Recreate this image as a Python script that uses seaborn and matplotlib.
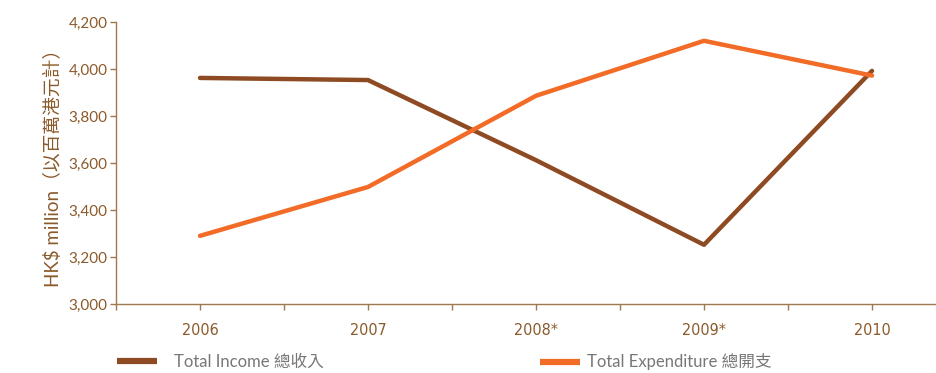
import matplotlib
matplotlib.use("Agg")
import matplotlib.pyplot as plt
import seaborn as sns
import pandas as pd
from matplotlib.ticker import FuncFormatter
from matplotlib.lines import Line2D

years = ["2006", "2007", "2008*", "2009*", "2010"]
income = [3962, 3953, 3612, 3252, 3992]
expenditure = [3290, 3498, 3886, 4120, 3972]
series_names = ["Total Income 總收入", "Total Expenditure 總開支"]
yticks = [3000, 3200, 3400, 3600, 3800, 4000, 4200]

colors = ["#8E4A22", "#F26B27"]
brown = "#8B5A2B"

sns.set_theme(style="white")
plt.rcParams['font.family'] = ['Lato', 'Noto Sans CJK TC', 'DejaVu Sans']

df = pd.DataFrame({
    "x": list(range(len(years))) * 2,
    "value": income + expenditure,
    "series": [series_names[0]] * len(years) + [series_names[1]] * len(years),
})

fig = plt.figure(figsize=(9.37, 3.73), dpi=100)
ax = fig.add_axes([116 / 937, 1 - 304 / 373, 1 - 116 / 937, (304 - 22) / 373])

sns.lineplot(data=df, x="x", y="value", hue="series", palette=colors,
             linewidth=3.2, ax=ax, legend=False, sort=False)

ax.set_yticks(yticks)
ax.yaxis.set_major_formatter(FuncFormatter(lambda v, p: f"{int(v):,}"))
ax.set_xticks(range(len(years)))
ax.set_xticklabels(years, family=['DejaVu Sans'], stretch='condensed')
ax.set_xticks([i + 0.5 for i in range(-1, len(years) - 1)], minor=True)
ax.set_xlim(-0.5, 4.387)
ax.set_ylim(3000, 4200)
ax.set_xlabel("")
ax.set_ylabel("HK$ million（以百萬港元計）", color=brown, fontsize=13.5, labelpad=5)

for s in ["top", "right"]:
    ax.spines[s].set_visible(False)
for s in ["left", "bottom"]:
    ax.spines[s].set_color("#A07850")
    ax.spines[s].set_linewidth(1.0)

ax.tick_params(axis="y", which="major", direction="out", length=4, width=1,
               color="#A07850", labelcolor=brown, labelsize=11, pad=2, left=True)
ax.tick_params(axis="x", which="both", direction="out", length=4, width=1,
               color="#A07850", labelcolor=brown, labelsize=11.5, pad=10, bottom=True)

for i, name in enumerate(series_names):
    h = Line2D([0], [0], color=colors[i], lw=4.5, solid_capstyle="butt")
    xpos = [102 / 937, 525 / 937][i]
    fig.legend([h], [name], loc="center left", bbox_to_anchor=(xpos, 1 - 362 / 373),
               frameon=False, fontsize=12, handlelength=2.4,
               handletextpad=1.0 if i == 0 else 0.45, labelcolor="#777777")

fig.savefig("out.png", dpi=100)
